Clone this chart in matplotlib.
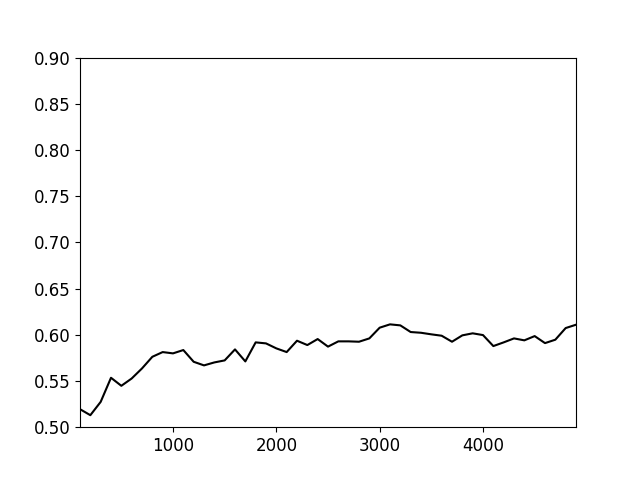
import numpy as np
import matplotlib
matplotlib.use('Agg')
from matplotlib import pyplot as plt

# x positions: every 100 steps from 100 to 4900
steps = list(range(100, 5000, 100))
acc = [0.5195, 0.513, 0.5274, 0.5535, 0.5448, 0.5527, 0.5636, 0.5762, 0.5813, 0.5799,
       0.5835, 0.5708, 0.5669, 0.5701, 0.5723, 0.5842, 0.5712, 0.5918, 0.5907, 0.5853,
       0.5813, 0.5936, 0.5889, 0.5954, 0.5872, 0.5929, 0.5929, 0.5925, 0.5961, 0.6077,
       0.6113, 0.6102, 0.603, 0.6022, 0.6005, 0.599, 0.5925, 0.5994, 0.6016, 0.5997,
       0.5878, 0.5918, 0.5961, 0.594, 0.5986, 0.591, 0.5947, 0.6073, 0.6109]

fig = plt.figure(figsize=(6.4, 4.8), dpi=100)
plt.plot(steps, acc, color='black')
plt.xlim(steps[0], steps[-1])
plt.ylim(0.5, 0.9)
plt.tick_params(labelsize=12)
plt.savefig('out.png')
